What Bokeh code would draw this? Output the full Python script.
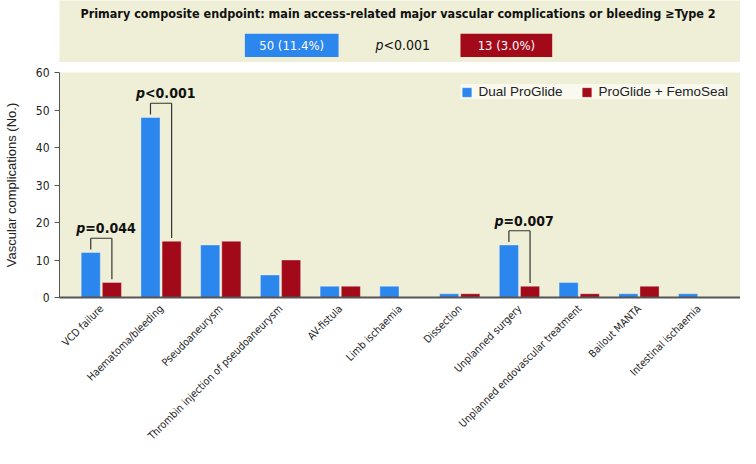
import math
from bokeh.plotting import figure
from bokeh.models import (ColumnDataSource, FactorRange, Range1d, Legend, LegendItem,
                          FixedTicker)
from bokeh.transform import dodge
from bokeh.layouts import column
from bokeh.core.properties import value
from bokeh.embed import file_html
from bokeh.resources import INLINE

# ---------------- data ----------------
categories = ["VCD failure", "Haematoma/bleeding", "Pseudoaneurysm",
              "Thrombin injection of pseudoaneurysm", "AV-fistula", "Limb ischaemia",
              "Dissection", "Unplanned surgery", "Unplanned endovascular treatment",
              "Bailout MANTA", "Intestinal ischaemia"]
dual_proglide = [12, 48, 14, 6, 3, 3, 1, 14, 4, 1, 1]
proglide_femoseal = [4, 15, 15, 10, 3, 0, 1, 3, 1, 3, 0]
series_names = ["Dual ProGlide", "ProGlide + FemoSeal"]

pvalue_categories = ["VCD failure", "Haematoma/bleeding", "Unplanned surgery"]
pvalue_texts = ["=0.044", "<0.001", "=0.007"]

composite_title = "Primary composite endpoint: main access-related major vascular complications or bleeding \u2265Type 2"
composite_values = ["50 (11.4%)", "13 (3.0%)"]
composite_p = "<0.001"

y_ticks = [0, 10, 20, 30, 40, 50, 60]
y_label = "Vascular complications (No.)"

# ---------------- style ----------------
BLUE = "#2b86ee"
RED = "#a30a19"
BEIGE = "#efefd7"
COND = "DejaVu Sans Condensed"
REG = "Liberation Sans"

# ---------------- top banner ----------------
top = figure(width=740, height=62, x_range=Range1d(58, 756), y_range=Range1d(69, 0),
             output_backend="svg", toolbar_location=None,
             x_axis_type=None, y_axis_type=None,
             min_border_left=58, min_border_right=0, min_border_top=0, min_border_bottom=0)
top.background_fill_color = BEIGE
top.border_fill_color = "white"
top.outline_line_color = None
top.grid.visible = False

top.text(x=[405], y=[15], text=[composite_title], text_align="center",
         text_baseline="middle", text_font=value(COND), text_font_style="bold",
         text_font_size="12.5px", text_color="#111111")

banner_src = ColumnDataSource(dict(x=[296, 516], w=[96, 94], c=[BLUE, RED],
                                   t=composite_values))
top.rect(x="x", y=50, width="w", height=26, fill_color="c", line_color=None,
         source=banner_src)
top.text(x="x", y=50, text="t", source=banner_src, text_align="center",
         text_baseline="middle", text_font=value(COND), text_font_size="13px",
         text_color="white")
top.text(x=[390], y=[50], text=["p"], text_align="right", text_baseline="middle",
         text_font=value(COND), text_font_style="italic", text_font_size="14px",
         text_color="#111111")
top.text(x=[390], y=[50], text=[composite_p], text_align="left", text_baseline="middle",
         text_font=value(COND), text_font_size="14px", text_color="#111111")

# ---------------- main chart ----------------
p = figure(width=740, height=386,
           x_range=FactorRange(*categories, range_padding=0.2, range_padding_units="absolute"),
           y_range=Range1d(0, 60),
           output_backend="svg", toolbar_location=None,
           min_border_left=58, min_border_right=0, min_border_top=10, min_border_bottom=140)
p.background_fill_color = BEIGE
p.border_fill_color = "white"
p.outline_line_color = None
p.grid.visible = False

src = ColumnDataSource(dict(cats=categories, a=dual_proglide, b=proglide_femoseal))
OFF = 0.177
r_a = p.vbar(x=dodge("cats", -OFF, range=p.x_range), top="a", width=0.32, source=src,
             fill_color=BLUE, line_color="white", line_alpha=0.35)
r_b = p.vbar(x=dodge("cats", OFF, range=p.x_range), top="b", width=0.32, source=src,
             fill_color=RED, line_color="white", line_alpha=0.35)

# significance brackets, derived from the data
idx = [categories.index(c) for c in pvalue_categories]
pa = [dual_proglide[i] for i in idx]
pb = [proglide_femoseal[i] for i in idx]
ptop = [max(x, y) + 3.8 for x, y in zip(pa, pb)]
br = ColumnDataSource(dict(cats=pvalue_categories, a0=[v + 0.8 for v in pa],
                           b0=[v + 0.9 for v in pb], top=ptop, t=pvalue_texts,
                           pp=["p"] * len(idx)))
p.segment(x0=dodge("cats", -OFF, range=p.x_range), y0="a0",
          x1=dodge("cats", -OFF, range=p.x_range), y1="top",
          source=br, line_color="#333333", line_width=1.2)
p.segment(x0=dodge("cats", -OFF, range=p.x_range), y0="top",
          x1=dodge("cats", OFF, range=p.x_range), y1="top",
          source=br, line_color="#333333", line_width=1.2)
p.segment(x0=dodge("cats", OFF, range=p.x_range), y0="top",
          x1=dodge("cats", OFF, range=p.x_range), y1="b0",
          source=br, line_color="#333333", line_width=1.2)
p.text(x="cats", y="top", text="pp", source=br, x_offset=-16, y_offset=-10,
       text_align="right", text_baseline="middle", text_font=value(COND),
       text_font_style="bold italic", text_font_size="14px", text_color="#111111")
p.text(x="cats", y="top", text="t", source=br, x_offset=-16, y_offset=-10,
       text_align="left", text_baseline="middle", text_font=value(COND),
       text_font_style="bold", text_font_size="14px", text_color="#111111")

# axes
p.yaxis.ticker = FixedTicker(ticks=y_ticks)
p.yaxis.minor_tick_line_color = None
p.yaxis.major_tick_in = 0
p.yaxis.major_tick_out = 5
p.yaxis.axis_line_color = "#555555"
p.yaxis.major_tick_line_color = "#555555"
p.yaxis.major_label_text_font = COND
p.yaxis.major_label_text_font_size = "12px"
p.yaxis.major_label_text_color = "#222222"
p.yaxis.axis_label = y_label
p.yaxis.axis_label_text_font = REG
p.yaxis.axis_label_text_font_style = "normal"
p.yaxis.axis_label_text_font_size = "13px"
p.yaxis.axis_label_text_color = "#222222"
p.yaxis.axis_label_standoff = 14

p.xaxis.axis_line_color = "#555555"
p.xaxis.axis_line_width = 2
p.xaxis.major_tick_line_color = None
p.xaxis.minor_tick_line_color = None
p.xaxis.major_label_orientation = math.pi / 4
p.xaxis.major_label_text_font = COND
p.xaxis.major_label_text_font_size = "10.5px"
p.xaxis.major_label_text_color = "#222222"
p.xaxis.major_label_standoff = 3

legend = Legend(items=[LegendItem(label=series_names[0], renderers=[r_a]),
                       LegendItem(label=series_names[1], renderers=[r_b])],
                orientation="horizontal", location="top_right")
legend.margin = 12
legend.padding = 4
legend.spacing = 18
legend.glyph_width = 12
legend.glyph_height = 12
legend.label_height = 12
legend.label_standoff = 6
legend.label_text_font = REG
legend.label_text_font_size = "13.5px"
legend.label_text_color = "#222222"
legend.background_fill_color = "white"
legend.background_fill_alpha = 0.6
legend.border_line_color = None
p.add_layout(legend)

layout = column(top, p)
open("out.html", "w").write(file_html(layout, INLINE))
